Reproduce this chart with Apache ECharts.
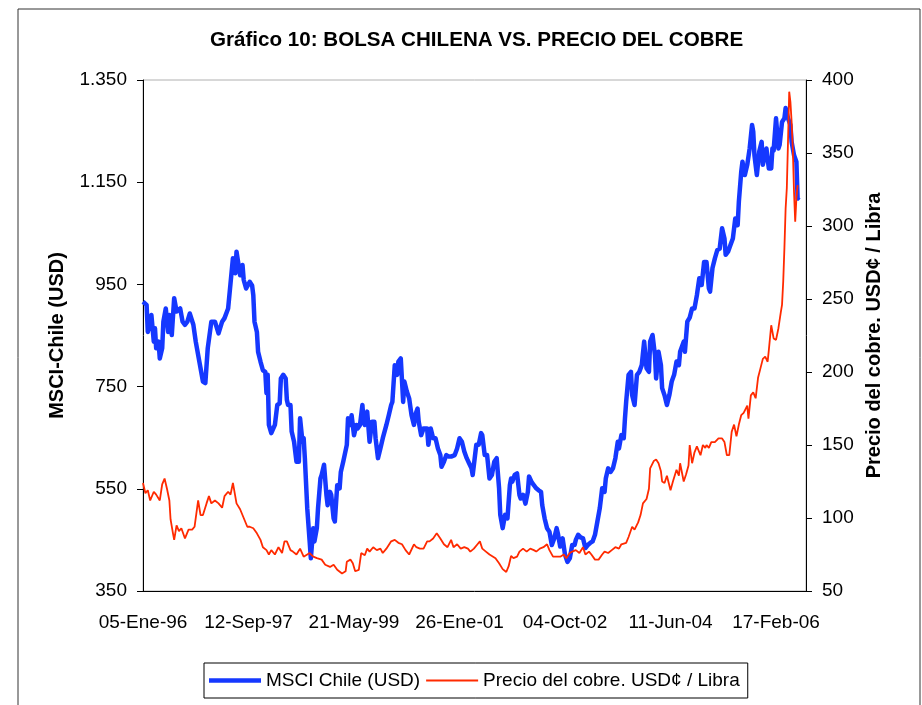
<!DOCTYPE html>
<html>
<head>
<meta charset="utf-8">
<title>Gráfico 10: Bolsa chilena vs. precio del cobre</title>
<script src="https://cdn.jsdelivr.net/npm/echarts@6/dist/echarts.min.js"></script>
<style>
  html, body { margin: 0; padding: 0; background: #fff; }
  #chart { width: 922px; height: 705px; }
</style>
</head>
<body>
<div id="chart"></div>
<script>
// datos semanales, x = semanas desde el 05-Ene-96
const tickLabels = ['05-Ene-96', '12-Sep-97', '21-May-99', '26-Ene-01', '04-Oct-02', '11-Jun-04', '17-Feb-06'];
const weeksPerTick = 88;
const lastWeek = 553;

// MSCI Chile (USD), eje izquierdo
const msciChile = [
  [0,916],[3,910],[4,857],[7,890],[9,838],[10,864],[11,825],[13,838],[14,805],[16,825],[17,877],[19,903],
  [21,857],[22,890],[24,851],[26,923],[28,897],[31,903],[33,877],[35,871],[37,877],[39,893],[42,871],[44,838],
  [47,799],[50,760],[52,757],[54,825],[57,877],[60,877],[63,854],[66,877],[68,884],[71,903],[73,952],[75,1001],
  [77,972],[78,1014],[81,968],[83,988],[84,959],[86,942],[89,955],[91,948],[92,929],[93,877],[95,857],[96,818],
  [98,799],[100,782],[102,779],[103,737],[104,773],[105,675],[107,659],[110,675],[112,714],[114,717],[115,766],
  [117,773],[119,766],[120,724],[121,714],[123,714],[124,662],[125,662],[126,642],[128,603],[130,603],[131,688],
  [133,642],[134,649],[135,610],[137,512],[139,447],[140,414],[142,473],[143,447],[145,473],[146,512],[148,570],
  [149,577],[151,597],[153,538],[154,518],[156,544],[157,538],[159,492],[160,486],[162,557],[164,551],[165,583],
  [167,603],[170,636],[171,688],[173,675],[174,694],[176,655],[178,675],[179,668],[181,675],[183,714],[184,681],
  [185,675],[187,701],[189,642],[191,681],[193,681],[194,649],[196,610],[198,629],[200,649],[203,675],[205,694],
  [207,714],[208,720],[210,792],[212,773],[213,799],[215,805],[217,720],[218,760],[220,741],[222,727],[224,694],
  [226,675],[227,694],[229,707],[230,681],[232,655],[234,668],[237,668],[238,636],[240,668],[242,649],[244,649],
  [246,629],[248,616],[249,593],[251,603],[253,616],[255,613],[257,613],[258,616],[260,616],[262,629],[264,649],
  [266,642],[268,623],[270,610],[272,600],[274,590],[275,577],[276,580],[278,636],[280,636],[282,659],[283,655],
  [285,616],[287,616],[289,570],[291,577],[293,603],[295,610],[297,551],[298,499],[300,473],[302,499],[304,492],
  [306,557],[307,570],[308,564],[310,577],[312,580],[314,538],[315,531],[317,538],[319,521],[321,544],[322,574],
  [324,564],[326,557],[328,551],[330,547],[332,544],[333,518],[335,492],[337,473],[339,466],[341,440],[343,453],
  [345,473],[346,463],[348,437],[350,453],[352,421],[354,407],[356,414],[358,440],[360,440],[361,450],[363,460],
  [365,455],[367,453],[369,434],[371,440],[373,444],[375,447],[377,460],[379,486],[381,512],[383,551],[385,544],
  [386,570],[388,590],[390,583],[392,590],[394,610],[396,642],[397,629],[399,655],[401,649],[402,688],[403,720],
  [405,773],[407,779],[408,733],[410,714],[412,773],[414,779],[416,792],[418,838],[420,786],[422,779],[423,838],
  [425,851],[427,812],[428,766],[430,818],[432,792],[433,747],[435,733],[437,714],[439,733],[441,760],[443,773],
  [445,799],[447,792],[448,818],[451,838],[452,818],[454,877],[456,885],[458,903],[460,903],[462,929],[464,962],
  [466,949],[468,994],[470,994],[472,942],[473,936],[475,982],[477,1001],[479,1017],[481,1020],[483,1060],
  [485,1040],[486,1008],[488,1014],[490,1027],[492,1040],[494,1079],[496,1066],[497,1112],[499,1171],[500,1190],
  [502,1164],[504,1184],[506,1216],[508,1262],[509,1249],[510,1203],[512,1164],[514,1210],[516,1229],[517,1184],
  [520,1216],[522,1177],[524,1177],[525,1216],[526,1212],[528,1275],[530,1216],[531,1223],[533,1268],[535,1275],
  [536,1295],[538,1275],[540,1262],[541,1229],[543,1203],[545,1190],[546,1118],[547,1121]
];

// Precio del cobre, USD¢ / libra, eje derecho
const precioCobre = [
  [0,124],[2,117],[4,119],[6,112],[9,118],[11,116],[14,112],[16,123],[18,127],[20,120],[22,112],[23,99],
  [25,89.5],[26,85],[28,95],[30,91],[32,93],[35,86],[38,92],[41,92],[43,94],[46,112],[48,102],[50,102],
  [53,110],[55,115],[57,110],[60,112],[63,110],[66,107],[68,115],[71,118],[73,116],[75,124],[78,110],[81,106],
  [84,100],[87,94],[89,94],[92,93],[95,89.5],[98,85],[100,80],[103,78],[105,75],[107,78],[110,75],[113,80],
  [116,76],[118,84],[120,84],[123,78],[125,77],[128,75],[131,79],[134,73.5],[137,75],[139,76],[142,73.5],
  [145,72.5],[149,71.5],[152,68],[156,66.5],[159,68],[162,64.5],[166,62],[169,63.5],[170,70],[173,71.5],
  [175,69],[177,63.5],[180,64.5],[182,76],[185,74.5],[187,79],[189,77],[192,80],[195,78],[198,79],[200,76],
  [203,79],[207,84],[210,85],[213,83],[216,82],[219,78],[222,75],[226,82],[228,80],[231,79],[234,79],[237,84],
  [239,84],[242,86],[245,89.5],[248,86],[251,82],[254,80],[257,85],[259,80],[262,82],[265,79],[268,80],[271,79],
  [273,77],[276,79],[279,82],[281,84],[283,79],[286,77],[289,75],[292,73.5],[294,72.5],[297,69],[300,65],
  [303,63],[305,67],[307,74],[309,72.5],[312,73.5],[314,77],[317,79],[320,77],[323,79],[326,78],[328,77],
  [331,79],[334,80],[337,82],[339,78],[342,73.5],[345,73.5],[348,73.5],[351,75],[353,72.5],[356,76],[358,77],
  [361,78],[364,76],[367,80],[369,75],[372,77],[374,75],[377,71.5],[380,71.5],[383,75],[385,77],[388,76],
  [391,78],[394,80],[397,79],[399,82],[403,83],[405,87],[408,94],[410,92],[413,97],[415,102],[417,110],[420,113],
  [422,120],[423,134],[426,139],[428,140],[430,137.5],[432,132],[433,125],[435,124],[437,129],[440,119],[442,125],
  [445,133],[447,129],[448,137.5],[451,125],[453,130],[455,136],[456,150],[458,137.5],[460,145],[462,149],
  [465,143],[467,150],[469,148],[470,150],[472,148],[474,152],[477,152],[480,154.5],[483,154.5],[485,152],
  [487,143],[489,143],[491,159],[493,164],[495,156],[497,164],[499,170.5],[501,172],[504,177],[505,168],
  [507,184],[509,186],[511,182],[513,196],[515,202.5],[517,209],[519,210.5],[521,207],[522,215],[524,232],
  [526,223],[528,222],[530,230],[532,241],[533,246],[534,262],[535,285],[536,312],[537,326],[538,358],[539,392],
  [540,385],[541,371.5],[542,353],[543,323.5],[544,303],[545,319],[546,328]
];

const font = '"Liberation Sans", Arial, sans-serif';
const blue = '#1538ff';
const red = '#ff2a00';
const chart = echarts.init(document.getElementById('chart'));

chart.setOption({
  animation: false,
  backgroundColor: '#fff',
  textStyle: { fontFamily: font, color: '#000' },
  title: {
    text: 'Gráfico 10: BOLSA CHILENA VS. PRECIO DEL COBRE',
    left: 205,
    top: 25,
    textStyle: { fontFamily: font, fontSize: 20.6, fontWeight: 'bold', color: '#000' }
  },
  graphic: [{
    type: 'rect',
    shape: { x: 18, y: 9, width: 902, height: 720 },
    style: { fill: 'none', stroke: '#333', lineWidth: 1 },
    silent: true
  }],
  legend: {
    left: 204,
    top: 663,
    itemWidth: 52,
    itemHeight: 14,
    itemGap: 6,
    padding: [8, 8, 8, 5],
    borderColor: '#000',
    borderWidth: 1,
    symbolKeepAspect: true,
    textStyle: { fontFamily: font, fontSize: 19, color: '#000' },
    data: [
      { name: 'MSCI Chile (USD)', icon: 'path://M0 0H52V4.5H0Z', itemStyle: { color: blue } },
      { name: 'Precio del cobre. USD¢ / Libra', icon: 'path://M0 0H52V2H0Z', itemStyle: { color: red } }
    ]
  },
  grid: {
    left: 143, right: 116, top: 80, bottom: 114,
    show: true, borderColor: '#b0b0b0', borderWidth: 1,
    outerBoundsMode: 'none'
  },
  xAxis: {
    type: 'value',
    min: 0,
    max: lastWeek,
    interval: weeksPerTick,
    axisLine: { lineStyle: { color: '#000', width: 1 } },
    axisTick: { show: false },
    splitLine: { show: false },
    axisLabel: {
      fontSize: 19, color: '#000', margin: 22,
      formatter: v => (v % weeksPerTick === 0 ? tickLabels[v / weeksPerTick] : '')
    }
  },
  yAxis: [{
    type: 'value',
    position: 'left',
    min: 350, max: 1350, interval: 200,
    name: 'MSCI-Chile (USD)',
    nameLocation: 'middle',
    nameRotate: 90,
    nameGap: 76,
    nameTextStyle: { fontFamily: font, fontSize: 20, fontWeight: 'bold', color: '#000' },
    axisLine: { show: true, lineStyle: { color: '#000', width: 1 } },
    axisTick: { show: true, length: 6, lineStyle: { color: '#000' } },
    splitLine: { show: false },
    axisLabel: {
      fontSize: 19, color: '#000', margin: 16,
      formatter: v => String(v).replace(/\B(?=(\d{3})+(?!\d))/g, '.')
    }
  }, {
    type: 'value',
    position: 'right',
    min: 50, max: 400, interval: 50,
    name: 'Precio del cobre. USD¢ / Libra',
    nameLocation: 'middle',
    nameRotate: 90,
    nameGap: 58,
    nameTextStyle: { fontFamily: font, fontSize: 20, fontWeight: 'bold', color: '#000' },
    axisLine: { show: true, lineStyle: { color: '#000', width: 1 } },
    axisTick: { show: true, length: 6, lineStyle: { color: '#000' } },
    splitLine: { show: false },
    axisLabel: { fontSize: 19, color: '#000', margin: 16 }
  }],
  series: [{
    name: 'MSCI Chile (USD)',
    type: 'line',
    yAxisIndex: 0,
    data: msciChile,
    showSymbol: false,
    symbol: 'none',
    lineStyle: { color: blue, width: 4.5, join: 'round' },
    itemStyle: { color: blue }
  }, {
    name: 'Precio del cobre. USD¢ / Libra',
    type: 'line',
    yAxisIndex: 1,
    data: precioCobre,
    showSymbol: false,
    symbol: 'none',
    lineStyle: { color: red, width: 1.8 },
    itemStyle: { color: red }
  }]
});
</script>
</body>
</html>
